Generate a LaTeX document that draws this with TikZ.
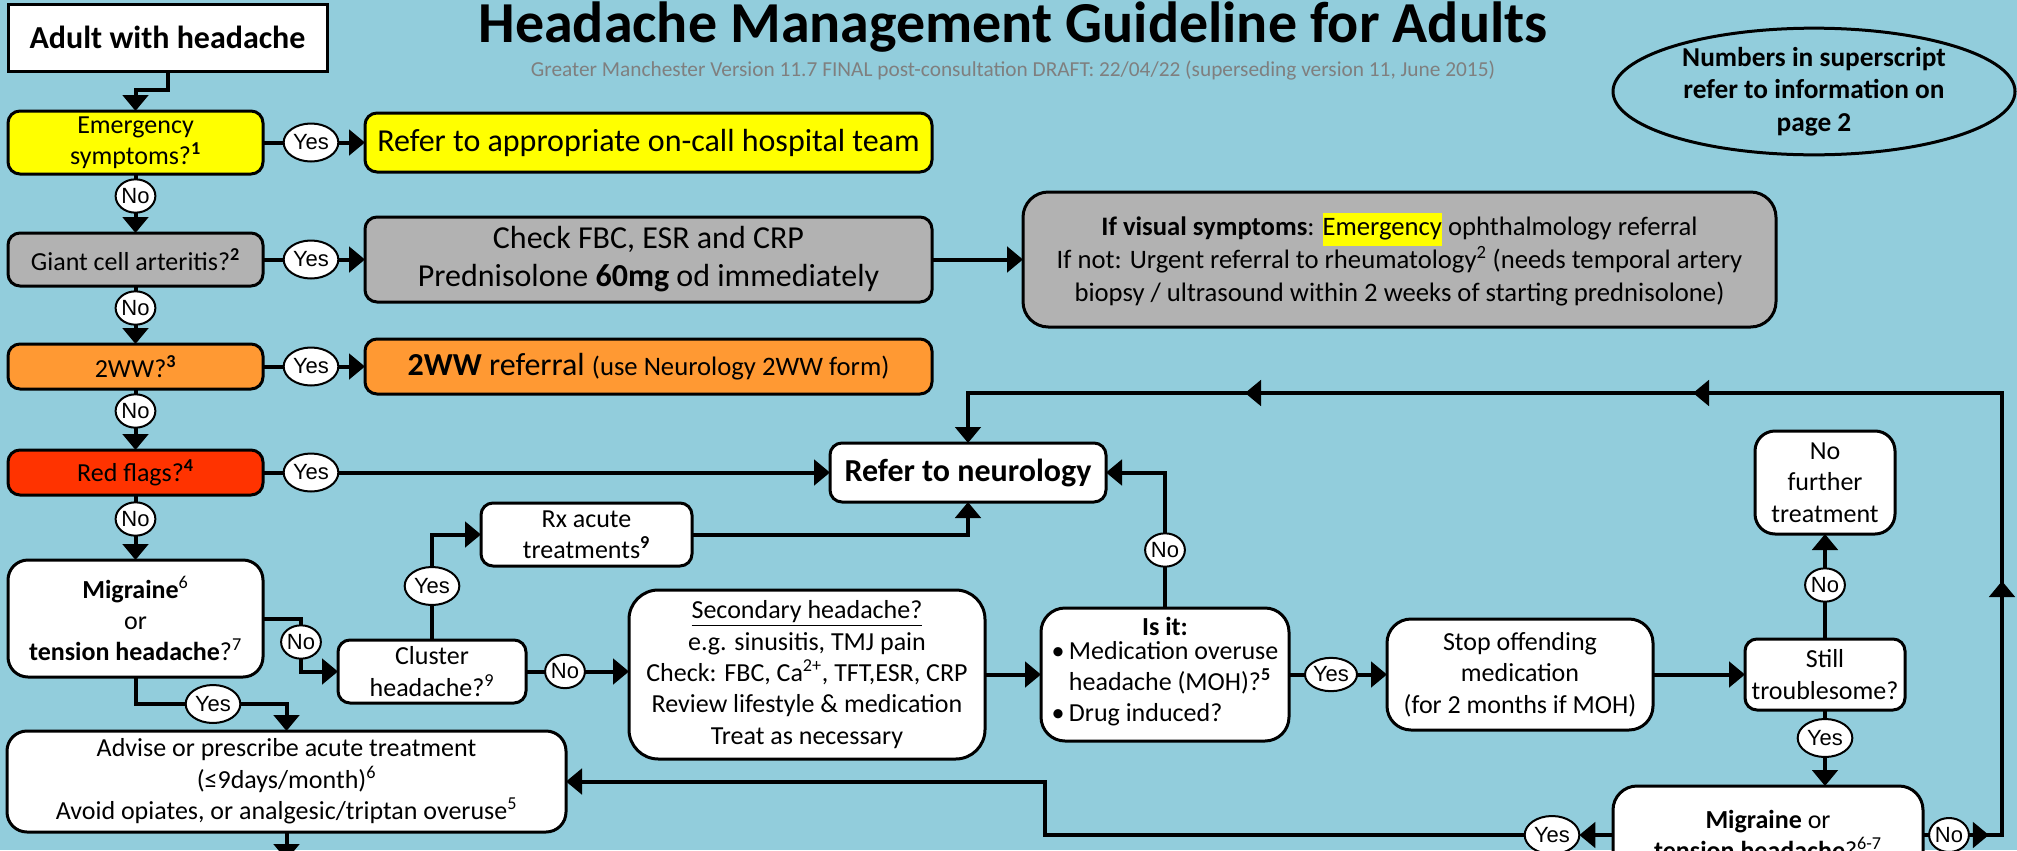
\documentclass[tikz,border=0pt]{standalone}
\usepackage{fontspec}
\setmainfont{Carlito}
\newfontfamily\arialf{Liberation Sans}
\usetikzlibrary{arrows.meta,shapes.geometric,calc}
\definecolor{bgc}{HTML}{92CDDC}
\definecolor{yel}{HTML}{FFFF00}
\definecolor{gry}{HTML}{B2B2B2}
\definecolor{org}{HTML}{FF9933}
\definecolor{redc}{HTML}{FF3300}
\definecolor{subg}{HTML}{7F7F7F}
\newcommand\fsA{\fontsize{24}{28.5}\selectfont}
\newcommand\fsB{\fontsize{19.5}{23.5}\selectfont}
\newcommand\fsV{\fontsize{20}{24.5}\selectfont}
\newcommand\ynf{\arialf\fontsize{16.5}{18}\selectfont}
\newcommand\sps[1]{\textsuperscript{#1}}
\newcommand\hlt[1]{{\setlength{\fboxsep}{0pt}\colorbox{yel}{\strut #1}}}
\newcommand\mybox[7][]{\node[#1, minimum width={(#5-#3)*0.75pt}, minimum height={(#6-#4)*0.75pt}] (#2) at ({(#3+#5)/2},{(#4+#6)/2}) {#7};}
\tikzset{
  base/.style={draw, line width=2.25pt, align=center, inner sep=1pt, outer sep=0pt, font=\fsB},
  sq/.style={base, fill=white},
  rb/.style={base, rounded corners=9pt},
  yn/.style={draw, ellipse, fill=white, line width=1.5pt, inner sep=0pt, outer sep=0pt, font=\ynf},
  yes/.style={yn, minimum width=41pt, minimum height=28.5pt},
  no/.style={yn, minimum width=28pt, minimum height=25pt},
  ln/.style={line width=3pt},
  arr/.style={ln, -{Triangle[width=19pt,length=12pt]}},
}
\begin{document}
\begin{tikzpicture}[x=0.75pt, y=-0.75pt]
\useasboundingbox (0,0) rectangle (2017,850);
\clip (0,0) rectangle (2017,850);
\fill[bgc] (0,0) rectangle (2017,850);

% title
\node[anchor=base, font=\fontsize{43.5}{50}\selectfont\bfseries, inner sep=0pt] (title) at (1013,42) {Headache Management Guideline for Adults};
\node[anchor=base, font=\fontsize{16}{19}\selectfont, text=subg, inner sep=0pt] (subtitle) at (1013,76) {Greater Manchester Version 11.7 FINAL post-consultation DRAFT: 22/04/22 (superseding version 11, June 2015)};
\node[draw, ellipse, line width=2.25pt, minimum width=301.5pt, minimum height=95pt, inner sep=0pt] (note) at (1814,91.5) {};
\node[align=center, font=\fontsize{20.5}{24.5}\selectfont\bfseries] (notetext) at (note.center) {Numbers in superscript\\refer to information on\\page 2};

% boxes
\mybox[sq, font=\fsA\bfseries]{adult}{8}{4}{327}{71}{Adult with headache}
\mybox[rb, fill=yel]{emerg}{8}{111}{263}{174}{Emergency\\symptoms?\sps{\textbf{1}}}
\mybox[rb, fill=yel, font=\fsA]{hosp}{365}{113}{932}{172}{Refer to appropriate on-call hospital team}
\mybox[rb, fill=gry]{gca}{8}{233}{263}{286}{Giant cell arteritis?\sps{\textbf{2}}}
\mybox[rb, fill=gry, font=\fsA]{check}{365}{217}{932}{302}{Check FBC, ESR and CRP\\Prednisolone \textbf{60mg} od immediately}
\mybox[rb, fill=gry, font=\fsV, rounded corners=19pt]{visual}{1023}{192}{1776}{327}{\textbf{If visual symptoms}: \hlt{Emergency} ophthalmology referral\\If not: Urgent referral to rheumatology\sps{2} (needs temporal artery\\biopsy / ultrasound within 2 weeks of starting prednisolone)}
\mybox[rb, fill=org]{tww}{8}{344}{263}{389}{2WW?\sps{\textbf{3}}}
\mybox[rb, fill=org, font=\fsA]{twwref}{365}{339}{932}{394}{\textbf{2WW} referral {\fsV(use Neurology 2WW form)}}
\mybox[rb, fill=redc]{red}{8}{450}{263}{495}{Red flags?\sps{\textbf{4}}}
\mybox[rb, fill=white, font=\fsA\bfseries]{neuro}{830}{443}{1106}{502}{Refer to neurology}
\mybox[rb, fill=white, rounded corners=15pt]{mig}{8}{560}{263}{677}{\textbf{Migraine}\sps{6}\\or\\\textbf{tension headache}?\sps{7}}
\mybox[rb, fill=white]{cluster}{338}{640}{526}{703}{Cluster\\headache?\sps{9}}
\mybox[rb, fill=white]{rx}{481}{503}{692}{566}{Rx acute\\treatments\sps{\textbf{9}}}
\mybox[rb, fill=white, rounded corners=22pt]{sec}{629}{590}{985}{759}{\underline{Secondary headache?}\\e.g. sinusitis, TMJ pain\\Check: FBC, Ca\sps{2+}, TFT,ESR, CRP\\Review lifestyle \& medication\\Treat as necessary}
\mybox[rb, fill=white, rounded corners=18pt]{isit}{1041}{608}{1289}{741}{\textbf{Is it:}\\\begin{tabular}{@{}l@{\,}l@{}}•&Medication overuse\\&headache (MOH)?\sps{\textbf{5}}\\•&Drug induced?\end{tabular}}
\mybox[rb, fill=white, rounded corners=18pt]{stop}{1387}{619}{1653}{730}{Stop offending\\medication\\(for 2 months if MOH)}
\mybox[rb, fill=white]{still}{1745}{639}{1905}{710}{Still\\troublesome?}
\mybox[rb, fill=white, rounded corners=15pt]{nft}{1755}{431}{1895}{534}{No\\further\\treatment}
\mybox[rb, fill=white, rounded corners=18pt]{mig2}{1613}{786}{1923}{884}{\textbf{Migraine} or\\\textbf{tension headache}?\sps{6-7}}
\mybox[rb, fill=white, rounded corners=15pt]{adv}{7}{731}{566}{832}{Advise or prescribe acute treatment\\(≤9days/month)\sps{6}\\Avoid opiates, or analgesic/triptan overuse\sps{5}}

% yes / no labels
\node[yes] (y1) at (311,142.5) {Yes};
\node[no] (n1) at (135.5,196) {No};
\node[yes] (y2) at (311,259.5) {Yes};
\node[no] (n2) at (135.5,308) {No};
\node[yes] (y3) at (311,366.5) {Yes};
\node[no] (n3) at (135.5,411) {No};
\node[yes] (y4) at (311,472.5) {Yes};
\node[no] (n4) at (135.5,519) {No};
\node[no] (n5) at (301,642) {No};
\node[yes] (y5) at (432,586) {Yes};
\node[no] (n6) at (565,671.5) {No};
\node[yes] (ym) at (213,704) {Yes};
\node[no] (n7) at (1165,550) {No};
\node[yes, minimum width=39pt, minimum height=25pt] (y7) at (1331,674.5) {Yes};
\node[no] (n8) at (1825,585) {No};
\node[yes] (y8) at (1825,738) {Yes};
\node[yes] (y9) at (1552,835) {Yes};
\node[no, minimum height=25.5pt] (n9) at (1949,835) {No};

\coordinate (bendA) at (1045,835);
\coordinate (rail) at (2002,835);
\coordinate (railtop) at (2002,393);

% connectors
\draw[arr] (adult.south) -- ++(0,19) -| (emerg.north);
\draw[ln] (emerg.east) -- (y1.west);
\draw[arr] (y1.east) -- (hosp.west);
\draw[ln] (emerg.south) -- (n1.north);
\draw[arr] (n1.south) -- (gca.north);
\draw[ln] (gca.east) -- (y2.west);
\draw[arr] (y2.east) -- (check.west);
\draw[arr] (check.east) -- (visual.west);
\draw[ln] (gca.south) -- (n2.north);
\draw[arr] (n2.south) -- (tww.north);
\draw[ln] (tww.east) -- (y3.west);
\draw[arr] (y3.east) -- (twwref.west);
\draw[ln] (tww.south) -- (n3.north);
\draw[arr] (n3.south) -- (red.north);
\draw[ln] (red.east) -- (y4.west);
\draw[arr] (y4.east) -- (neuro.west);
\draw[ln] (red.south) -- (n4.north);
\draw[arr] (n4.south) -- (mig.north);
\draw[ln] (mig.east) -| (n5.north);
\draw[arr] (n5.south) |- (cluster.west);
\draw[ln] (mig.south) |- (ym.west);
\draw[arr] (ym.east) -| (adv.north);
\draw[ln] (cluster.north) -- (y5.south);
\draw[arr] (y5.north) |- (rx.west);
\draw[arr] (rx.east) -| (neuro.south);
\draw[ln] (cluster.east) -- (n6.west);
\draw[arr] (n6.east) -- (n6.east -| sec.west);
\draw[arr] (sec.east) -- (isit.west);
\draw[ln] (isit.north) -- (n7.south);
\draw[arr] (n7.north) |- (neuro.east);
\draw[ln] (isit.east) -- (y7.west);
\draw[arr] (y7.east) -- (stop.west);
\draw[arr] (stop.east) -- (still.west);
\draw[ln] (still.north) -- (n8.south);
\draw[arr] (n8.north) -- (nft.south);
\draw[ln] (still.south) -- (y8.north);
\draw[arr] (y8.south) -- (y8.south |- mig2.north);
\draw[arr] (mig2.west) -- (y9.east);
\draw[arr] (y9.west) -- (bendA) |- (adv.east);
\draw[arr] (adv.south) -- ++(0,28);
\draw[ln] (mig2.east) -- (n9.west);
\draw[arr] (n9.east) -- (rail) -- (railtop) -| (neuro.north);
% mid-line arrow heads
\draw[arr] (n9.east) -- ++(20,0);
\draw[arr] (2002,620) -- (2002,581);
\draw[arr] (1730,393) -- (1693,393);
\draw[arr] (1280,393) -- (1245,393);
\end{tikzpicture}
\end{document}
